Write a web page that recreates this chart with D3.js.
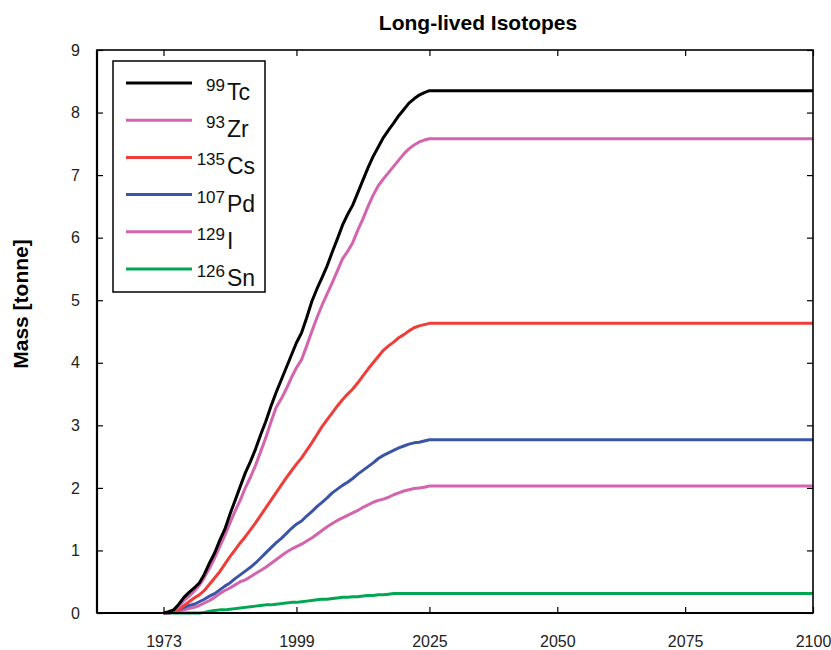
<!DOCTYPE html>
<html>
<head>
<meta charset="utf-8">
<script src="https://cdn.jsdelivr.net/npm/d3@7"></script>
<style>
  html, body { margin: 0; padding: 0; background: #fff; }
  svg { display: block; font-family: "Liberation Sans", Arial, sans-serif; }
</style>
</head>
<body>
<svg id="chart" width="831" height="650"></svg>
<script>
// Inventory of long-lived fission products (tonnes), yearly to 2025, then held to 2100
const years = [1973, 1974, 1975, 1976, 1977, 1978, 1979, 1980, 1981, 1982, 1983, 1984, 1985, 1986, 1987, 1988, 1989, 1990,
  1991, 1992, 1993, 1994, 1995, 1996, 1997, 1998, 1999, 2000, 2001, 2002, 2003, 2004, 2005, 2006, 2007, 2008, 2009, 2010,
  2011, 2012, 2013, 2014, 2015, 2016, 2017, 2018, 2019, 2020, 2021, 2022, 2023, 2024, 2025, 2100];

const tc99 = [0, 0.02, 0.05, 0.14, 0.25, 0.33, 0.40, 0.48, 0.62, 0.80, 0.96, 1.16, 1.34, 1.58, 1.80, 2.02, 2.24, 2.42,
  2.62, 2.85, 3.06, 3.30, 3.52, 3.72, 3.92, 4.12, 4.32, 4.48, 4.72, 4.98, 5.18, 5.36, 5.55, 5.77, 5.98, 6.20, 6.37, 6.52,
  6.72, 6.92, 7.12, 7.30, 7.45, 7.60, 7.72, 7.83, 7.95, 8.05, 8.15, 8.22, 8.28, 8.32, 8.35, 8.35];

const zr93 = [0, 0.01, 0.04, 0.11, 0.20, 0.27, 0.35, 0.44, 0.57, 0.72, 0.88, 1.06, 1.24, 1.44, 1.63, 1.80, 2.00, 2.17,
  2.36, 2.58, 2.80, 3.05, 3.28, 3.42, 3.58, 3.76, 3.92, 4.05, 4.27, 4.50, 4.72, 4.92, 5.10, 5.28, 5.47, 5.66, 5.78, 5.92,
  6.12, 6.30, 6.50, 6.68, 6.83, 6.94, 7.04, 7.14, 7.24, 7.34, 7.42, 7.48, 7.53, 7.56, 7.58, 7.58];

const cs135 = [0, 0.01, 0.02, 0.05, 0.12, 0.18, 0.24, 0.29, 0.36, 0.46, 0.56, 0.66, 0.78, 0.90, 1.01, 1.12, 1.22, 1.33,
  1.44, 1.56, 1.68, 1.80, 1.92, 2.04, 2.16, 2.27, 2.38, 2.48, 2.60, 2.72, 2.85, 2.98, 3.09, 3.20, 3.31, 3.41, 3.50, 3.58,
  3.68, 3.79, 3.90, 4.00, 4.10, 4.20, 4.27, 4.33, 4.40, 4.45, 4.51, 4.56, 4.59, 4.61, 4.63, 4.63];

const pd107 = [0, 0, 0.02, 0.05, 0.09, 0.12, 0.14, 0.18, 0.22, 0.27, 0.31, 0.37, 0.43, 0.48, 0.55, 0.61, 0.67, 0.73,
  0.80, 0.88, 0.96, 1.04, 1.12, 1.19, 1.27, 1.35, 1.42, 1.47, 1.55, 1.62, 1.70, 1.77, 1.84, 1.92, 1.98, 2.04, 2.09, 2.15,
  2.22, 2.28, 2.34, 2.40, 2.47, 2.52, 2.56, 2.60, 2.64, 2.67, 2.70, 2.72, 2.73, 2.75, 2.77, 2.77];

const i129 = [0, 0, 0.01, 0.03, 0.05, 0.07, 0.09, 0.12, 0.16, 0.20, 0.25, 0.31, 0.36, 0.40, 0.45, 0.50, 0.53, 0.58,
  0.63, 0.68, 0.73, 0.79, 0.85, 0.91, 0.97, 1.02, 1.06, 1.10, 1.15, 1.20, 1.26, 1.32, 1.38, 1.43, 1.48, 1.52, 1.56, 1.60,
  1.64, 1.69, 1.73, 1.77, 1.80, 1.82, 1.85, 1.89, 1.92, 1.95, 1.97, 1.99, 2.00, 2.01, 2.03, 2.03];

const sn126 = [0, 0, 0, 0, 0, 0, 0, 0, 0.01, 0.03, 0.04, 0.05, 0.05, 0.06, 0.07, 0.08, 0.09, 0.10,
  0.11, 0.12, 0.13, 0.13, 0.14, 0.15, 0.16, 0.17, 0.17, 0.18, 0.19, 0.20, 0.21, 0.22, 0.22, 0.23, 0.24, 0.25, 0.25, 0.26,
  0.26, 0.27, 0.28, 0.28, 0.29, 0.29, 0.30, 0.31, 0.31, 0.31, 0.31, 0.31, 0.31, 0.31, 0.31, 0.31];

const massNumbers = ["99", "93", "135", "107", "129", "126"];
const elements = ["Tc", "Zr", "Cs", "Pd", "I", "Sn"];
const seriesColors = ["#000000", "#d364ae", "#ef3d3a", "#3a55a5", "#d364ae", "#00a652"];
const seriesValues = [tc99, zr93, cs135, pd107, i129, sn126];

const xTicks = [1973, 1999, 2025, 2050, 2075, 2100];
const yTicks = [0, 1, 2, 3, 4, 5, 6, 7, 8, 9];

const svg = d3.select("#chart");
const plot = { left: 97, right: 813, top: 50, bottom: 613 };

const x = d3.scaleLinear().domain([1960, 2100]).range([plot.left, plot.right]);
const y = d3.scaleLinear().domain([0, 9]).range([plot.bottom, plot.top]);

// Axes with inward ticks, mirrored on the top and right edges
const tickStyle = g => {
  g.select(".domain").remove();
  g.selectAll(".tick line").attr("stroke", "#000").attr("stroke-width", 1.2);
  g.selectAll(".tick text").attr("fill", "#222").style("font-size", "16px");
};

svg.append("g").attr("transform", `translate(0,${plot.bottom})`)
  .call(d3.axisBottom(x).tickValues(xTicks).tickFormat(d3.format("d")).tickSize(-6).tickPadding(23))
  .call(tickStyle);
svg.append("g").attr("transform", `translate(0,${plot.top})`)
  .call(d3.axisTop(x).tickValues(xTicks).tickFormat("").tickSize(-6))
  .call(tickStyle);
svg.append("g").attr("transform", `translate(${plot.left},0)`)
  .call(d3.axisLeft(y).tickValues(yTicks).tickFormat(d3.format("d")).tickSize(-6).tickPadding(17))
  .call(tickStyle);
svg.append("g").attr("transform", `translate(${plot.right},0)`)
  .call(d3.axisRight(y).tickValues(yTicks).tickFormat("").tickSize(-6))
  .call(tickStyle);

// Series lines
const line = d3.line().x((d, i) => x(years[i])).y(d => y(d));
const order = [5, 4, 3, 2, 1, 0];
svg.append("g").selectAll("path")
  .data(order)
  .join("path")
  .attr("d", k => line(seriesValues[k]))
  .attr("fill", "none")
  .attr("stroke", k => seriesColors[k])
  .attr("stroke-width", 3)
  .attr("stroke-linejoin", "round");

// Plot frame
svg.append("rect")
  .attr("x", plot.left).attr("y", plot.top)
  .attr("width", plot.right - plot.left).attr("height", plot.bottom - plot.top)
  .attr("fill", "none").attr("stroke", "#000").attr("stroke-width", 1.6);
svg.append("line")
  .attr("x1", plot.left).attr("x2", plot.left).attr("y1", plot.top).attr("y2", plot.bottom)
  .attr("stroke", "#000").attr("stroke-width", 2.2);
svg.append("line")
  .attr("x1", plot.left).attr("x2", plot.right).attr("y1", plot.bottom).attr("y2", plot.bottom)
  .attr("stroke", "#000").attr("stroke-width", 2.2);

// Legend
const legend = svg.append("g");
legend.append("rect")
  .attr("x", 113).attr("y", 61).attr("width", 152).attr("height", 231)
  .attr("fill", "#fff").attr("stroke", "#000").attr("stroke-width", 1.5);
const rowY = d3.scaleLinear().domain([0, 5]).range([83, 269]);
const rows = legend.selectAll("g.row").data(d3.range(elements.length)).join("g")
  .attr("class", "row")
  .attr("transform", i => `translate(0,${rowY(i)})`);
rows.append("line")
  .attr("x1", 126).attr("x2", 192).attr("y1", 0).attr("y2", 0)
  .attr("stroke", i => seriesColors[i]).attr("stroke-width", 3);
rows.append("text")
  .attr("x", 225).attr("y", 8)
  .attr("text-anchor", "end")
  .style("font-size", "17px").attr("fill", "#111")
  .text(i => massNumbers[i]);
rows.append("text")
  .attr("x", 227).attr("y", 17)
  .style("font-size", "23px").attr("fill", "#111")
  .text(i => elements[i]);

// Title and axis label
svg.append("text")
  .attr("x", 478).attr("y", 30)
  .attr("text-anchor", "middle")
  .style("font-size", "21px").style("font-weight", "bold")
  .text("Long-lived Isotopes");
svg.append("text")
  .attr("transform", "translate(28,304) rotate(-90)")
  .attr("text-anchor", "middle")
  .style("font-size", "21px").style("font-weight", "bold")
  .text("Mass [tonne]");
</script>
</body>
</html>
